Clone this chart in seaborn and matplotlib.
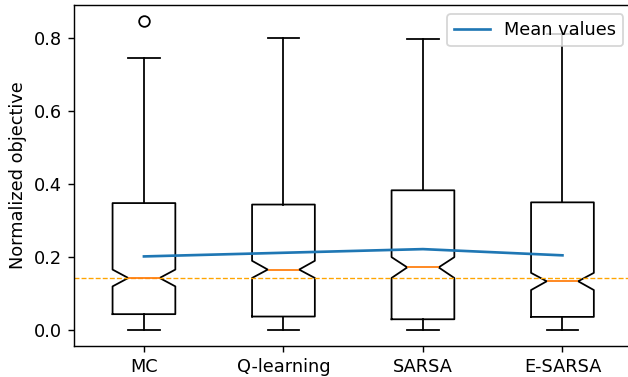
import matplotlib
matplotlib.use("Agg")
import matplotlib.pyplot as plt
import seaborn as sns
import pandas as pd

# Summary statistics of the normalized objective per method
methods = ["MC", "Q-learning", "SARSA", "E-SARSA"]
whisker_low = [0.0, 0.0, 0.0, 0.0]
q1 = [0.044, 0.0375, 0.030, 0.0365]
medians = [0.143, 0.166, 0.172, 0.134]
q3 = [0.348, 0.344, 0.383, 0.350]
whisker_high = [0.744, 0.800, 0.797, 0.811]
notch_low = [0.120, 0.143, 0.143, 0.110]
notch_high = [0.166, 0.190, 0.200, 0.157]
outliers = [[0.847], [], [], []]
means = [0.202, 0.212, 0.222, 0.205]
reference_level = 0.143

positions = list(range(1, len(methods) + 1))

fig = plt.figure(figsize=(628 / 128, 377 / 128), dpi=128)
ax = fig.add_axes([74.2 / 628, 1 - 345.7 / 377, 558 / 628, 340.4 / 377])

stats = [
    dict(label=m, whislo=lo, q1=a, med=md, q3=b, whishi=hi,
         cilo=cl, cihi=ch, fliers=fl)
    for m, lo, a, md, b, hi, cl, ch, fl in zip(
        methods, whisker_low, q1, medians, q3, whisker_high,
        notch_low, notch_high, outliers)
]
ax.bxp(stats, positions=positions, widths=0.45, shownotches=True)

mean_df = pd.DataFrame({"position": positions, "mean": means})
sns.lineplot(data=mean_df, x="position", y="mean", ax=ax,
             color="C0", linewidth=1.5, label="Mean values")

ax.axhline(reference_level, color="orange", linestyle="--", linewidth=0.75)

ax.set_xlim(0.5, 4.5)
ax.set_xticks(positions)
ax.set_xticklabels(methods)
ax.set_xlabel("")
ax.set_ylabel("Normalized objective")
ax.spines["right"].set_visible(False)
ax.legend(loc="upper right")

fig.savefig("out.png", dpi=128)
